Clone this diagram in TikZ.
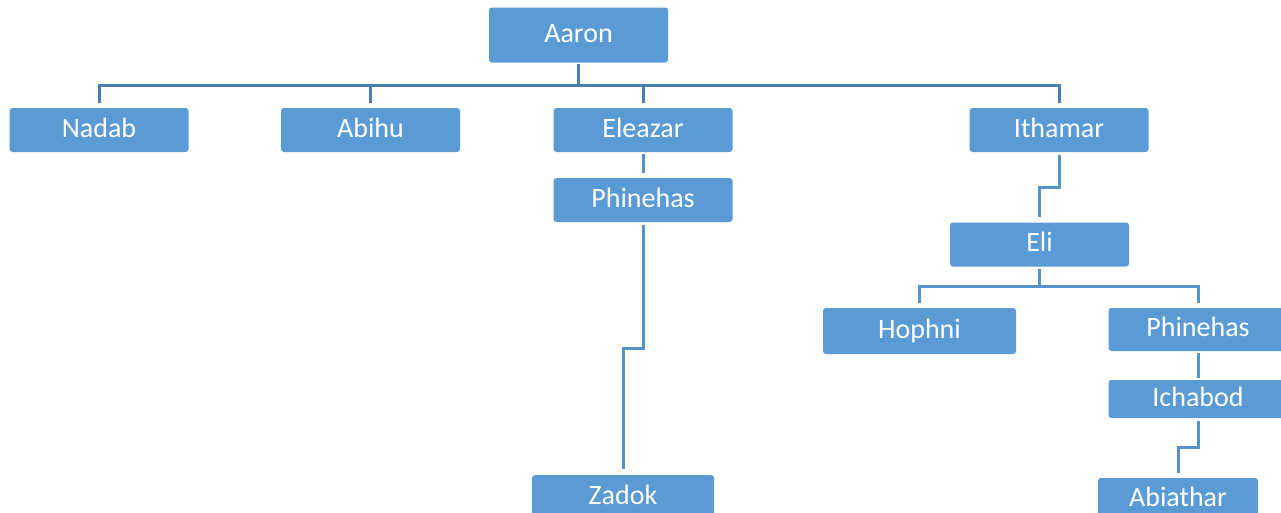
\documentclass[tikz,border=0pt]{standalone}
\usepackage{fontspec}
\setmainfont{Carlito}
\definecolor{boxblue}{HTML}{5B9BD5}
\definecolor{topblue}{HTML}{4A7EB0}
\definecolor{lineblue}{HTML}{5692CB}
\begin{document}
\begin{tikzpicture}[x=1pt,y=-1pt,
 box/.style={fill=boxblue, text=white, rounded corners=3pt, minimum height=44pt, minimum width=179pt, inner sep=0pt, text height=20pt, text depth=5.4pt, font=\fontsize{28}{32}\selectfont},
 link/.style={draw=lineblue, line width=3pt},
 toplink/.style={draw=topblue, line width=3pt}]
\useasboundingbox (0,0) rectangle (1281,512);
\clip (0,0) rectangle (1281,512);
\node[box, minimum height=55pt] (aaron) at (578.5,35) {Aaron};
\node[box] (nadab) at (99,130) {Nadab};
\node[box] (abihu) at (370.5,130) {Abihu};
\node[box] (eleazar) at (643,130) {Eleazar};
\node[box] (ithamar) at (1059,130) {Ithamar};
\node[box] (phin1) at (643,200) {Phinehas};
\node[box, minimum width=182pt] (zadok) at (623,497) {Zadok};
\node[box] (eli) at (1039.5,244.5) {Eli};
\node[box, minimum width=193pt, minimum height=46pt] (hophni) at (919.5,331) {Hophni};
\node[box, minimum height=43pt] (phin2) at (1198,329.5) {Phinehas};
\node[box, minimum height=38pt] (ichabod) at (1198,399) {Ichabod};
\node[box, minimum width=160pt, minimum height=42pt] (abiathar) at (1178,499) {Abiathar};
\coordinate (bus) at (0,85);
\coordinate (ebus) at (0,286);
\draw[toplink, shorten <=1pt] (aaron.south) -- (aaron.south |- bus);
\draw[toplink, shorten <=5pt, shorten >=5pt] (nadab.north) -- (nadab.north |- bus) -- (ithamar.north |- bus) -- (ithamar.north);
\draw[toplink, shorten <=5pt] (abihu.north) -- (abihu.north |- bus);
\draw[toplink, shorten <=5pt] (eleazar.north) -- (eleazar.north |- bus);
\draw[link, shorten <=2pt, shorten >=5pt] (eleazar.south) -- (phin1.north);
\draw[link, shorten <=3pt, shorten >=6pt] (phin1.south) -- ++(0,126) -| (zadok.north);
\draw[link, shorten <=3pt, shorten >=5pt] (ithamar.south) -- ++(0,35) -| (eli.north);
\draw[link, shorten <=2pt] (eli.south) -- (eli.south |- ebus);
\draw[link, shorten <=5pt, shorten >=5pt] (hophni.north) -- (hophni.north |- ebus) -- (phin2.north |- ebus) -- (phin2.north);
\draw[link, shorten <=2pt, shorten >=2pt] (phin2.south) -- (ichabod.north);
\draw[link, shorten <=3pt, shorten >=5pt] (ichabod.south) -- ++(0,29) -| (abiathar.north);
\end{tikzpicture}
\end{document}
